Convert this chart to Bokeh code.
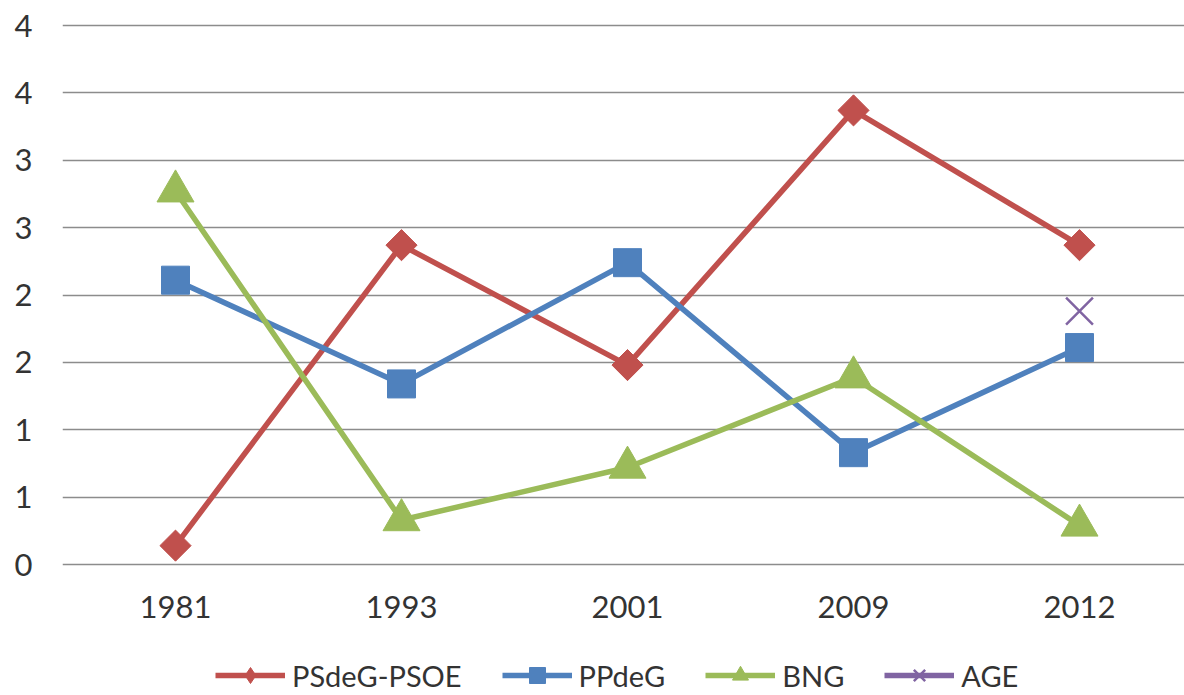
import math
from bokeh.plotting import figure
from bokeh.models import Range1d, FixedTicker, Legend, LegendItem, ColumnDataSource
from bokeh.embed import file_html
from bokeh.resources import INLINE

years = ["1981", "1993", "2001", "2009", "2012"]
psdeg_psoe = [0.14, 2.37, 1.48, 3.37, 2.37]
ppdeg = [2.11, 1.34, 2.24, 0.83, 1.61]
bng = [2.77, 0.33, 0.72, 1.39, 0.29]
age = [float("nan"), float("nan"), float("nan"), float("nan"), 1.88]
y_ticks = [0, 0.5, 1, 1.5, 2, 2.5, 3, 3.5, 4]
y_tick_labels = ["0", "1", "1", "2", "2", "3", "3", "4", "4"]

FONT = "Lato"
TEXT = "#333333"
x = list(range(len(years)))

W, H = 1184, 695
LEFT, TOP = 62, 23
ZERO_Y = 564                      # pixel row of the value 0
frame_w = W - LEFT
px_per_unit = 539 / 4.0
y_end = 4 + 2 / px_per_unit
y_start = -(H - ZERO_Y) / px_per_unit

p = figure(width=W, height=H, output_backend="svg", toolbar_location=None,
           x_range=Range1d(-0.5, -0.5 + frame_w / 226.0),
           y_range=Range1d(y_start, y_end),
           min_border_left=LEFT, min_border_top=TOP, min_border_right=0,
           min_border_bottom=0)
p.outline_line_color = None
p.background_fill_color = "white"
p.border_fill_color = "white"

p.xgrid.visible = False
p.ygrid.grid_line_color = "#8c8c8c"
p.ygrid.grid_line_width = 1.5
p.ygrid.ticker = FixedTicker(ticks=y_ticks)

p.xaxis.fixed_location = 0
p.xaxis.ticker = FixedTicker(ticks=x)
p.xaxis.major_label_overrides = {i: y for i, y in zip(x, years)}
p.yaxis.ticker = FixedTicker(ticks=y_ticks)
p.yaxis.major_label_overrides = {t: l for t, l in zip(y_ticks, y_tick_labels)}
for ax in (p.xaxis[0], p.yaxis[0]):
    ax.axis_line_color = None
    ax.major_tick_line_color = None
    ax.minor_tick_line_color = None
    ax.major_tick_out = 0
    ax.major_tick_in = 0
    ax.major_label_text_font = FONT
    ax.major_label_text_font_size = "31px"
    ax.major_label_text_color = TEXT
p.xaxis.major_label_standoff = 31
p.yaxis.major_label_standoff = 30

series = [
    ("PSdeG-PSOE", psdeg_psoe, "#C0504D", "square", 22, math.pi / 4, "diamond"),
    ("PPdeG", ppdeg, "#4F81BD", "square", 28, 0.0, "square"),
    ("BNG", bng, "#9BBB59", "triangle", 37, 0.0, "triangle"),
]

# a point far outside the visible ranges, used only to draw the legend keys
off = ColumnDataSource(dict(x=[-50.0], y=[-50.0]))

items = []
for name, vals, color, marker, size, ang, leg_marker in series:
    src = ColumnDataSource(dict(x=x, y=vals))
    ln = p.line("x", "y", source=src, line_color=color, line_width=5.5, line_join="round")
    p.scatter("x", "y", source=src, marker=marker, size=size, angle=ang,
              fill_color=color, line_color=color)
    key = p.scatter("x", "y", source=off, marker=leg_marker, size=size,
                    fill_color=color, line_color=color)
    items.append(LegendItem(label=name, renderers=[ln, key]))

src_age = ColumnDataSource(dict(x=x, y=age))
ln_age = p.line("x", "y", source=src_age, line_color="#8064A2", line_width=5.5)
sc_age = p.scatter("x", "y", source=src_age, marker="x", size=38,
                   line_color="#8064A2", line_width=2.5)
items.append(LegendItem(label="AGE", renderers=[ln_age, sc_age]))

legend = Legend(items=items, orientation="horizontal", location=(153, 0),
                glyph_width=70, glyph_height=40, label_standoff=7, spacing=40,
                padding=0, margin=0, border_line_color=None,
                background_fill_alpha=0,
                label_text_font=FONT, label_text_font_size="29px",
                label_text_color=TEXT)
p.add_layout(legend)

open("out.html", "w").write(file_html(p, INLINE))
